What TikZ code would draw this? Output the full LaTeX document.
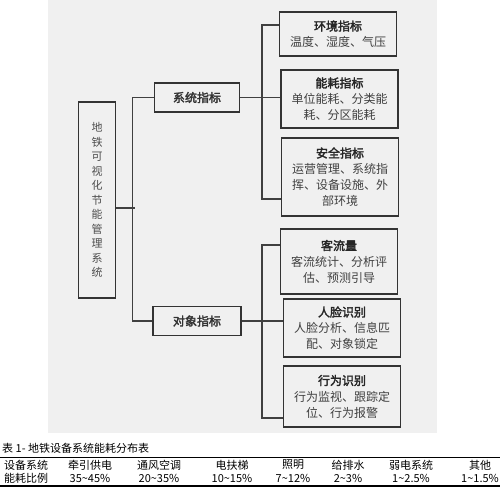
\documentclass[tikz,border=0pt]{standalone}
\usepackage{fontspec}
\setmainfont{Noto Sans CJK SC}[AutoFakeBold=2.5]
\usetikzlibrary{calc}
\tikzset{
  rootbox/.style={draw=black!80, line width=1.6pt, minimum width=37pt, minimum height=196pt,
                  align=center, text=black!70, font=\fontsize{11}{14.5}\selectfont},
  midbox/.style={draw=black!80, line width=1.6pt, minimum width=85pt, minimum height=29pt,
                 text=black!80, font=\fontsize{12}{14}\selectfont\bfseries},
  leafbox/.style={draw=black!80, line width=1.6pt, minimum width=117pt, align=center,
                  inner sep=0pt, text=black!75, font=\fontsize{12}{16}\selectfont},
  link/.style={draw=black!75, line width=1.1pt},
  cell/.style={inner sep=0pt, font=\fontsize{11}{13}\selectfont},
}
\newcommand{\leaftitle}[1]{{\bfseries\color{black!85}#1}}

\begin{document}
\begin{tikzpicture}[x=1pt, y=-1pt]
    \useasboundingbox (0,0) rectangle (500,490);
    \fill[white] (0,0) rectangle (500,490);
    \fill[black!6] (48,0) rectangle (437,433);
    % tree
    \node[rootbox] (root) at (97,200) {地\\铁\\可\\视\\化\\节\\能\\管\\理\\系\\统};
    \node[midbox] (sys) at (197,97.5) {系统指标};
    \node[midbox, minimum width=88pt] (obj) at (197,321) {对象指标};
    \node[leafbox, minimum height=44pt] (hj) at (338,34) {\leaftitle{环境指标}\\温度、湿度、气压};
    \node[leafbox, minimum height=58pt] (nh) at (339.5,99) {\leaftitle{能耗指标}\\单位能耗、分类能\\耗、分区能耗};
    \node[leafbox, minimum height=78pt] (aq) at (340,177) {\leaftitle{安全指标}\\运营管理、系统指\\挥、设备设施、外\\部环境};
    \node[leafbox, minimum height=65pt] (kl) at (339,261.5) {\leaftitle{客流量}\\客流统计、分析评\\估、预测引导};
    \node[leafbox, minimum height=58pt] (rl) at (342,328) {\leaftitle{人脸识别}\\人脸分析、信息匹\\配、对象锁定};
    \node[leafbox, minimum height=61pt] (xw) at (342,396.5) {\leaftitle{行为识别}\\行为监视、跟踪定\\位、行为报警};
    \coordinate (sa) at (262,25);
    \coordinate (sb) at (262,199);
    \coordinate (oa) at (262,245);
    \coordinate (ob) at (262,418);
    \draw[link] (root.east |- 0,208) -- ++(19,0);
    \draw[link] (sys.west) -- ++(-21,0) |- (obj.west);
    \draw[link] (sys.east) -- (sys.east -| nh.west);
    \draw[link] (hj.west |- sa) -- (sa) -- (sb) -- (aq.west |- sb);
    \draw[link] (obj.east) -- (obj.east -| rl.west);
    \draw[link] (kl.west |- oa) -- (oa) -- (ob) -- (xw.west |- ob);
    % table
    \node[cell, anchor=west] (cap) at (2,448) {表 1- 地铁设备系统能耗分布表};
    \draw[line width=0.6pt] (0,457) -- (500,457);
    \node[cell, anchor=west] (h0) at (4,465) {设备系统};
    \node[cell, anchor=west] (v0) at (4,478) {能耗比例};
    \foreach \x/\h/\v [count=\i] in {90/牵引供电/35\textasciitilde45\%, 159/通风空调/20\textasciitilde35\%,
        232/电扶梯/10\textasciitilde15\%, 293/照明/7\textasciitilde12\%, 348/给排水/2\textasciitilde3\%,
        411/弱电系统/1\textasciitilde2.5\%, 480/其他/1\textasciitilde1.5\%} {
      \node[cell] (h\i) at (\x,465) {\h};
      \node[cell] (v\i) at (\x,478) {\v};
    }
    \draw[line width=2pt] (0,486) -- (500,486);
\end{tikzpicture}
\end{document}
